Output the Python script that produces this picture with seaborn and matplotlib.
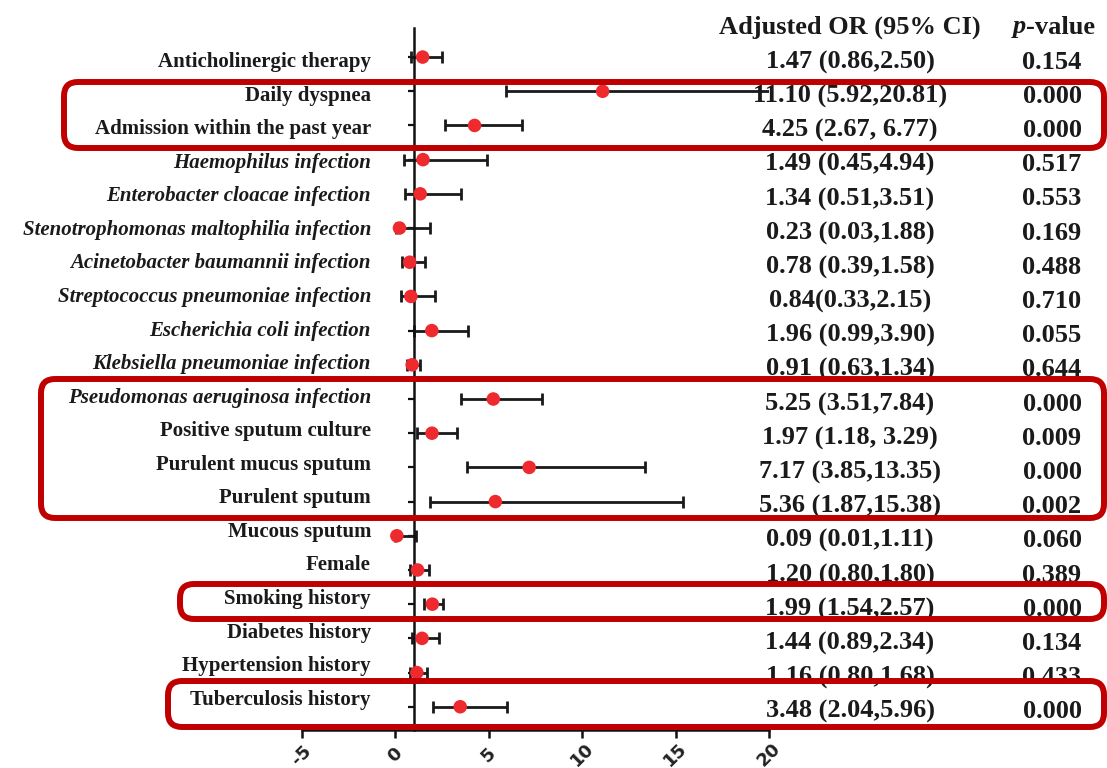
import numpy as np
import pandas as pd
import matplotlib
matplotlib.use("Agg")
import matplotlib.pyplot as plt
import matplotlib.transforms as mtransforms
from matplotlib.patches import FancyBboxPatch
import seaborn as sns

# ---------------- data ----------------
variables = [
    "Anticholinergic therapy", "Daily dyspnea", "Admission within the past year",
    "Haemophilus infection", "Enterobacter cloacae infection",
    "Stenotrophomonas maltophilia infection", "Acinetobacter baumannii infection",
    "Streptococcus pneumoniae infection", "Escherichia coli infection",
    "Klebsiella pneumoniae infection", "Pseudomonas aeruginosa infection",
    "Positive sputum culture", "Purulent mucus sputum", "Purulent sputum",
    "Mucous sputum", "Female", "Smoking history", "Diabetes history",
    "Hypertension history", "Tuberculosis history",
]
italic_rows = [False, False, False, True, True, True, True, True, True, True, True,
               False, False, False, False, False, False, False, False, False]
odds_ratio = [1.47, 11.10, 4.25, 1.49, 1.34, 0.23, 0.78, 0.84, 1.96, 0.91,
              5.25, 1.97, 7.17, 5.36, 0.09, 1.20, 1.99, 1.44, 1.16, 3.48]
ci_low = [0.86, 5.92, 2.67, 0.45, 0.51, 0.03, 0.39, 0.33, 0.99, 0.63,
          3.51, 1.18, 3.85, 1.87, 0.01, 0.80, 1.54, 0.89, 0.80, 2.04]
ci_high = [2.50, 20.81, 6.77, 4.94, 3.51, 1.88, 1.58, 2.15, 3.90, 1.34,
           7.84, 3.29, 13.35, 15.38, 1.11, 1.80, 2.57, 2.34, 1.68, 5.96]
or_text = [
    "1.47 (0.86,2.50)", "11.10 (5.92,20.81)", "4.25 (2.67, 6.77)",
    "1.49 (0.45,4.94)", "1.34 (0.51,3.51)", "0.23 (0.03,1.88)",
    "0.78 (0.39,1.58)", "0.84(0.33,2.15)", "1.96 (0.99,3.90)",
    "0.91 (0.63,1.34)", "5.25 (3.51,7.84)", "1.97 (1.18, 3.29)",
    "7.17 (3.85,13.35)", "5.36 (1.87,15.38)", "0.09 (0.01,1.11)",
    "1.20 (0.80,1.80)", "1.99 (1.54,2.57)", "1.44 (0.89,2.34)",
    "1.16 (0.80,1.68)", "3.48 (2.04,5.96)",
]
p_values = ["0.154", "0.000", "0.000", "0.517", "0.553", "0.169", "0.488",
            "0.710", "0.055", "0.644", "0.000", "0.009", "0.000", "0.002",
            "0.060", "0.389", "0.000", "0.134", "0.433", "0.000"]
x_ticks = [-5, 0, 5, 10, 15, 20]
reference_or = 1

df = pd.DataFrame({"variable": variables, "OR": odds_ratio,
                   "low": ci_low, "high": ci_high})
df["row"] = np.arange(len(df))
n = len(df)

# ---------------- figure ----------------
sns.set_theme(style="white")
plt.rcParams["font.family"] = ["Liberation Serif", "DejaVu Serif"]

W, H = 1107, 768
ROW_PX = 34.2
fig = plt.figure(figsize=(W / 100, H / 100), dpi=100)
ax = fig.add_axes([301.7 / W, 1 - 730 / H, 467.3 / W, 702 / H])

# confidence intervals
ax.errorbar(df["OR"], df["row"],
            xerr=[df["OR"] - df["low"], df["high"] - df["OR"]],
            fmt="none", ecolor="#1a1a1a", elinewidth=2.0, capsize=4.0,
            capthick=2.0, zorder=2)
# point estimates
sns.scatterplot(data=df, x="OR", y="row", color="#EE2A2E", s=95,
                edgecolor="none", zorder=3, ax=ax, legend=False)

ax.set_xlim(-5, 20)
ax.set_ylim(n - 1 + 0.68, -0.85)
ax.set_xticks(x_ticks)
ax.set_xticklabels([str(t) for t in x_ticks], rotation=45, ha="center",
                   va="center", fontsize=13, fontweight="bold",
                   family="DejaVu Sans", color="#222222")
ax.set_yticks(df["row"])
ax.set_yticklabels([])
ax.set_xlabel("")
ax.set_ylabel("")

for s in ["top", "right"]:
    ax.spines[s].set_visible(False)
ax.spines["left"].set_position(("data", reference_or))
for s in ["left", "bottom"]:
    ax.spines[s].set_linewidth(1.8)
    ax.spines[s].set_color("#111111")
ax.tick_params(axis="y", direction="out", length=4, width=1.6, color="#111111", left=True)
ax.tick_params(axis="x", direction="out", length=6, width=1.8, color="#111111",
               bottom=True, pad=12)
ax.patch.set_alpha(0)

# left labels (slight drift relative to the dots, as in the reference)
lab_tr = mtransforms.blended_transform_factory(fig.transFigure, ax.transData)
for i, (name, it) in enumerate(zip(variables, italic_rows)):
    off = (5 - 12 * i / (n - 1)) / ROW_PX
    ax.text(371 / W, i + off, name, transform=lab_tr, ha="right", va="center",
            fontsize=15, fontweight="bold", style="italic" if it else "normal",
            color="#1a1a1a", clip_on=False)

# right columns
for i, (t, p) in enumerate(zip(or_text, p_values)):
    ax.text(850 / W, i + 0.15, t, transform=lab_tr, ha="center", va="center",
            fontsize=19, fontweight="bold", color="#1a1a1a", clip_on=False)
    ax.text(1052 / W, i + 0.15, p, transform=lab_tr, ha="center", va="center",
            fontsize=19, fontweight="bold", color="#1a1a1a", clip_on=False)

fig.text(850 / W, 1 - 27 / H, "Adjusted OR (95% CI)", ha="center", va="center",
         fontsize=19, fontweight="bold", color="#1a1a1a")
fig.text(1026 / W, 1 - 27 / H, "p", ha="right", va="center", style="italic",
         fontsize=19, fontweight="bold", color="#1a1a1a")
fig.text(1026 / W, 1 - 27 / H, "-value", ha="left", va="center",
         fontsize=19, fontweight="bold", color="#1a1a1a")

# highlight boxes (pixel coords, top-origin)
boxes = [(64, 82, 1104, 148), (41, 379, 1104, 518),
         (180, 584, 1104, 619), (168, 681, 1104, 727)]
for (x0, y0, x1, y1) in boxes:
    patch = FancyBboxPatch((x0, H - y1), x1 - x0, y1 - y0,
                           boxstyle="round,pad=0,rounding_size=14",
                           transform=None, facecolor="none",
                           edgecolor="#C00000", linewidth=4.3, zorder=10)
    fig.add_artist(patch)

fig.savefig("out.png", dpi=100)
